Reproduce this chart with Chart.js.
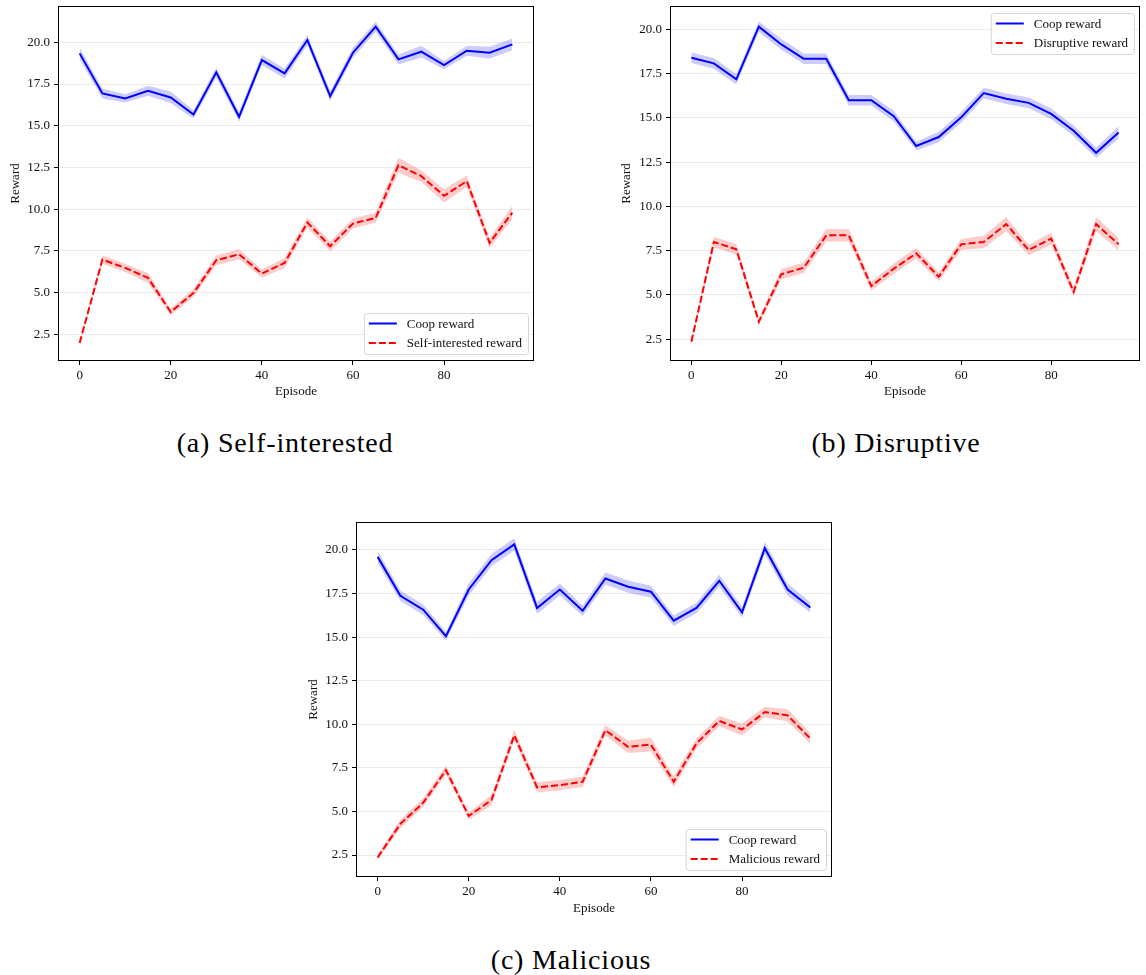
<!DOCTYPE html>
<html>
<head>
<meta charset="utf-8">
<script src="https://cdn.jsdelivr.net/npm/chart.js@4.4.0/dist/chart.umd.min.js"></script>
<style>
  body { margin: 0; background: #fff; width: 1146px; height: 975px; position: relative; overflow: hidden; }
  canvas { position: absolute; }
  .cap { position: absolute; font-family: 'Liberation Serif', 'DejaVu Serif', serif; font-size: 28px; letter-spacing: 0.8px; color: #000; transform: translate(-50%, -50%); white-space: nowrap; }
</style>
</head>
<body>
<canvas id="chartA" width="545" height="410" style="left:0px;top:0px"></canvas>
<canvas id="chartB" width="536" height="410" style="left:610px;top:0px"></canvas>
<canvas id="chartC" width="545" height="410" style="left:295px;top:515px"></canvas>
<div class="cap" style="left:285px;top:443px">(a) Self-interested</div>
<div class="cap" style="left:896px;top:443px">(b) Disruptive</div>
<div class="cap" style="left:571px;top:960px">(c) Malicious</div>
<script>
const episodes = [0, 5, 10, 15, 20, 25, 30, 35, 40, 45, 50, 55, 60, 65, 70, 75, 80, 85, 90, 95];
const xTicks = [0, 20, 40, 60, 80];
const yTicks = [2.5, 5, 7.5, 10, 12.5, 15, 17.5, 20];

// (a) self-interested
const coopA = [19.34, 16.94, 16.64, 17.1, 16.7, 15.68, 18.2, 15.54, 18.94, 18.14, 20.14, 16.78, 19.38, 20.94, 18.98, 19.44, 18.64, 19.5, 19.38, 19.88];
const coopSpreadA = [0.35, 0.3, 0.25, 0.3, 0.35, 0.25, 0.3, 0.3, 0.3, 0.3, 0.3, 0.3, 0.3, 0.3, 0.3, 0.35, 0.25, 0.3, 0.35, 0.35];
const selfA = [1.98, 6.98, 6.48, 5.88, 3.84, 4.98, 6.94, 7.3, 6.14, 6.78, 9.2, 7.78, 9.14, 9.48, 12.64, 11.98, 10.8, 11.68, 7.98, 9.8];
const selfSpreadA = [0.1, 0.25, 0.25, 0.3, 0.2, 0.25, 0.3, 0.3, 0.25, 0.3, 0.3, 0.3, 0.3, 0.3, 0.45, 0.35, 0.4, 0.35, 0.3, 0.4];

// (b) disruptive
const coopB = [18.4, 18.08, 17.18, 20.15, 19.15, 18.34, 18.34, 16.0, 16.0, 15.1, 13.41, 13.92, 15.03, 16.4, 16.08, 15.85, 15.23, 14.27, 13.03, 14.18];
const coopSpreadB = [0.3, 0.3, 0.3, 0.3, 0.3, 0.3, 0.3, 0.3, 0.3, 0.3, 0.25, 0.3, 0.3, 0.3, 0.3, 0.3, 0.3, 0.3, 0.3, 0.35];
const disruptB = [2.36, 7.99, 7.58, 3.49, 6.17, 6.54, 8.37, 8.37, 5.5, 6.48, 7.35, 6.03, 7.86, 7.99, 9.0, 7.54, 8.18, 5.18, 9.0, 7.86];
const disruptSpreadB = [0.15, 0.3, 0.3, 0.2, 0.3, 0.3, 0.35, 0.35, 0.25, 0.3, 0.3, 0.25, 0.3, 0.35, 0.4, 0.3, 0.35, 0.25, 0.4, 0.35];

// (c) malicious
const coopC = [19.6, 17.37, 16.57, 15.05, 17.73, 19.41, 20.32, 16.67, 17.73, 16.51, 18.36, 17.89, 17.6, 15.94, 16.67, 18.23, 16.42, 20.1, 17.73, 16.7];
const coopSpreadC = [0.35, 0.3, 0.3, 0.25, 0.35, 0.35, 0.35, 0.35, 0.35, 0.3, 0.35, 0.35, 0.35, 0.3, 0.3, 0.35, 0.3, 0.35, 0.35, 0.3];
const maliciousC = [2.36, 4.29, 5.5, 7.37, 4.74, 5.66, 9.37, 6.38, 6.51, 6.7, 9.66, 8.7, 8.84, 6.7, 8.9, 10.19, 9.7, 10.7, 10.51, 9.18];
const maliciousSpreadC = [0.15, 0.25, 0.25, 0.25, 0.2, 0.3, 0.3, 0.3, 0.3, 0.3, 0.3, 0.35, 0.4, 0.3, 0.3, 0.3, 0.35, 0.3, 0.35, 0.3];

Chart.defaults.font.family = "'Liberation Serif', 'DejaVu Serif', serif";
Chart.defaults.font.size = 13;
Chart.defaults.color = '#111';

const toPoints = vals => episodes.map((e, i) => ({ x: e, y: vals[i] }));
const shift = (vals, spread, sign) => vals.map((v, i) => v + sign * spread[i]);

// black box around the plot area
const frame = {
  id: 'frame',
  afterDraw(chart) {
    const a = chart.chartArea, ctx = chart.ctx;
    ctx.save();
    ctx.strokeStyle = '#000';
    ctx.lineWidth = 1;
    ctx.strokeRect(Math.round(a.left) + 0.5, Math.round(a.top) + 0.5, Math.round(a.right - a.left) - 1, Math.round(a.bottom - a.top) - 1);
    ctx.restore();
  }
};

// matplotlib-like legend inside the plot area
const boxLegend = {
  id: 'boxLegend',
  afterDraw(chart, args, opts) {
    const a = chart.chartArea, ctx = chart.ctx;
    const items = chart.data.datasets.filter(d => !d.isBand);
    ctx.save();
    ctx.font = "13px 'Liberation Serif', 'DejaVu Serif', serif";
    const textW = Math.max(...items.map(d => ctx.measureText(d.label).width));
    const w = 5 + 28 + 10 + textW + 6, h = 41;
    const x = a.right - 6 - w;
    const y = opts.corner === 'top' ? a.top + 7 : a.bottom - 7 - h;
    ctx.fillStyle = 'rgba(255,255,255,0.85)';
    ctx.strokeStyle = '#d6d6d6';
    ctx.lineWidth = 1;
    ctx.beginPath();
    ctx.roundRect(x + 0.5, y + 0.5, w, h, 3);
    ctx.fill();
    ctx.stroke();
    items.forEach((d, i) => {
      const cy = y + 10.5 + i * 19.5;
      ctx.strokeStyle = d.borderColor;
      ctx.lineWidth = 2;
      ctx.setLineDash(d.borderDash || []);
      ctx.beginPath();
      ctx.moveTo(x + 5, cy);
      ctx.lineTo(x + 33, cy);
      ctx.stroke();
      ctx.setLineDash([]);
      ctx.fillStyle = '#111';
      ctx.textBaseline = 'middle';
      ctx.fillText(d.label, x + 43, cy + 1);
    });
    ctx.restore();
  }
};

function makeChart(id, coop, coopSpread, other, otherSpread, otherLabel, yMin, yMax, box, corner) {
  const ctx = document.getElementById(id).getContext('2d');
  return new Chart(ctx, {
    type: 'line',
    data: {
      datasets: [
        { label: 'coop upper', isBand: true, data: toPoints(shift(coop, coopSpread, 1)), borderWidth: 0, pointRadius: 0, backgroundColor: 'rgba(0,0,255,0.2)', fill: '+1' },
        { label: 'coop lower', isBand: true, data: toPoints(shift(coop, coopSpread, -1)), borderWidth: 0, pointRadius: 0, fill: false },
        { label: 'other upper', isBand: true, data: toPoints(shift(other, otherSpread, 1)), borderWidth: 0, pointRadius: 0, backgroundColor: 'rgba(255,0,0,0.2)', fill: '+1' },
        { label: 'other lower', isBand: true, data: toPoints(shift(other, otherSpread, -1)), borderWidth: 0, pointRadius: 0, fill: false },
        { label: 'Coop reward', data: toPoints(coop), borderColor: '#0000ff', borderWidth: 2, pointRadius: 0, fill: false },
        { label: otherLabel, data: toPoints(other), borderColor: '#ff0000', borderWidth: 2, borderDash: [7, 3], pointRadius: 0, fill: false }
      ]
    },
    options: {
      responsive: false,
      animation: false,
      events: [],
      layout: { padding: { left: 0, top: box.top, right: box.right, bottom: 0 } },
      elements: { line: { tension: 0 } },
      scales: {
        x: {
          type: 'linear',
          min: -4.75,
          max: 99.75,
          afterBuildTicks: s => { s.ticks = xTicks.map(v => ({ value: v })); },
          afterFit: s => { s.height = box.xh; s.paddingLeft = 0; s.paddingRight = 0; },
          ticks: { padding: 3, maxRotation: 0, callback: v => String(v) },
          grid: { drawOnChartArea: false, color: '#000', tickColor: '#000', tickLength: 4 },
          border: { display: false },
          title: { display: true, text: 'Episode', padding: { top: 0, bottom: box.xt }, font: { size: 13 } }
        },
        y: {
          min: yMin,
          max: yMax,
          afterBuildTicks: s => { s.ticks = yTicks.map(v => ({ value: v })); },
          afterFit: s => { s.width = box.yw; s.paddingTop = 0; s.paddingBottom = 0; },
          ticks: { padding: 4, callback: v => Number(v).toFixed(1) },
          grid: { color: '#ebebeb', tickColor: '#000', tickLength: 4 },
          border: { display: false },
          title: { display: true, text: 'Reward', padding: { top: box.yt, bottom: 0 }, font: { size: 13 } }
        }
      },
      plugins: {
        legend: { display: false },
        tooltip: { enabled: false },
        boxLegend: { corner: corner }
      }
    },
    plugins: [frame, boxLegend]
  });
}

makeChart('chartA', coopA, coopSpreadA, selfA, selfSpreadA, 'Self-interested reward', 0.9, 22.18,
  { top: 6, right: 11, xh: 49, yw: 58, xt: 11, yt: 8 }, 'bottom');
makeChart('chartB', coopB, coopSpreadB, disruptB, disruptSpreadB, 'Disruptive reward', 1.27, 21.32,
  { top: 6, right: 6, xh: 49, yw: 60, xt: 11, yt: 9 }, 'top');
makeChart('chartC', coopC, coopSpreadC, maliciousC, maliciousSpreadC, 'Malicious reward', 1.24, 21.6,
  { top: 7, right: 8, xh: 48, yw: 61, xt: 9, yt: 11 }, 'bottom');
</script>
</body>
</html>
